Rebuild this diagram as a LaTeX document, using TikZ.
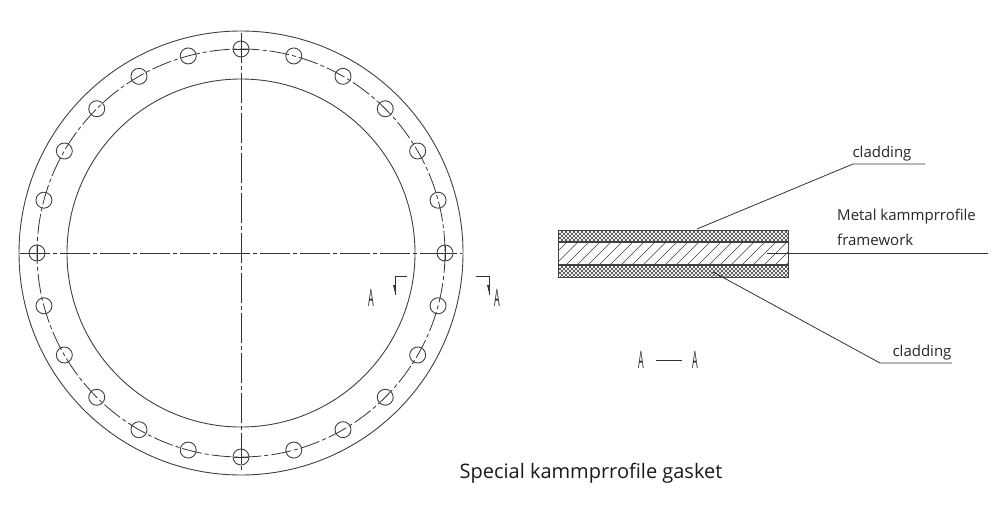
\documentclass[tikz,border=0pt]{standalone}
\usepackage{fontspec}
\setmainfont{Open Sans}
\usepackage{graphicx}
\usetikzlibrary{calc}

\tikzset{
    part/.style={draw=black!75,line width=0.9pt},
    center line/.style={draw=black!80,line width=0.8pt,dash pattern=on 30pt off 3pt on 4pt off 3pt},
    pitch line/.style={draw=black!80,line width=0.8pt,dash pattern=on 20pt off 3pt on 4pt off 3pt},
    leader/.style={draw=black!80,line width=0.8pt},
    hatch/.style={draw=black!75,line width=0.6pt},
    label/.style={font=\fontsize{15}{15}\selectfont,text=black!85,inner sep=0pt},
    seclabel/.style={inner sep=0pt,text=black!85},
}
\newcommand{\secA}{\scalebox{0.6}[1.6]{\fontsize{15}{15}\selectfont\rmfamily A}}

\begin{document}
\begin{tikzpicture}[x=1pt,y=-1pt]
            \useasboundingbox (0,0) rectangle (1000,511);

            \coordinate (o) at (241,253);

            % gasket rings
            \draw[part] (o) circle (222);
            \draw[part] (o) circle (174);
            \draw[pitch line] (o) circle (204);

            % center lines
            \draw[center line] (20,253) -- (462,253);
            \draw[center line] (241,33) -- (241,471);

            % bolt holes
            \foreach \a in {0,15,...,345}{
                \draw[part] ($(o)+(\a:204)$) circle (8);
            }
            \foreach \a in {0,90,180,270}{
                \draw[leader] ($(o)+(\a:204)+(-7,0)$) -- ++(14,0);
                \draw[leader] ($(o)+(\a:204)+(0,-7)$) -- ++(0,14);
            }

            % section marks
            \coordinate (sl) at (395,276);
            \coordinate (sr) at (489,276);
            \draw[leader] (407,276) -- (sl) -- (395,295);
            \draw[leader] (476,276) -- (sr) -- (489,295);
            \fill[black!80] (393,285) -- (395,285) -- (395,293) -- cycle;
            \fill[black!80] (487,285) -- (489,285) -- (489,293) -- cycle;
            \node[seclabel] (al) at (371,298) {\secA};
            \node[seclabel] (ar) at (497,298) {\secA};

            % cross section
            \coordinate (s1) at (558,230);
            \coordinate (s2) at (788,242);
            \coordinate (s3) at (558,265);
            \coordinate (s4) at (788,277);

            \begin{scope}
                \clip (s1) rectangle (s2);
                \foreach \x in {550,554,...,800}{
                    \draw[hatch] (\x,228) -- ++(16,16);
                    \draw[hatch] (\x,228) -- ++(-16,16);
                }
            \end{scope}
            \begin{scope}
                \clip (s3) rectangle (s4);
                \foreach \x in {550,554,...,800}{
                    \draw[hatch] (\x,263) -- ++(16,16);
                    \draw[hatch] (\x,263) -- ++(-16,16);
                }
            \end{scope}
            \begin{scope}
                \clip (558,242) rectangle (788,265);
                \foreach \x in {558,569,...,820}{
                    \draw[hatch] (\x,240) -- ++(-27,27);
                }
            \end{scope}
            \draw[part] (s1) rectangle (s4);
            \draw[part,line width=1.3pt] (558,242) -- (s2);
            \draw[part,line width=1.3pt] (s3) -- (788,265);

            % labels
            \node[label,anchor=base] (clad1) at (882,157) {cladding};
            \node[label,anchor=base west] (metal1) at (837,220) {Metal kammprrofile};
            \node[label,anchor=base west] (metal2) at (837,245) {framework};
            \node[label,anchor=base] (clad2) at (922,356) {cladding};
            \node[seclabel] (a1) at (641,360) {\secA};
            \node[seclabel] (a2) at (695,360) {\secA};
            \node[inner sep=0pt,text=black!90,font=\fontsize{20}{20}\selectfont,anchor=base] (title) at (591,478) {Special kammprrofile gasket};

            % leaders
            \coordinate (p1) at (697,229);
            \coordinate (k1) at (853,164);
            \coordinate (e1) at (925,164);
            \draw[leader] (p1) -- (k1) -- (e1);
            \coordinate (p2) at (767,253);
            \coordinate (e2) at (988,253);
            \draw[leader] (p2) -- (e2);
            \coordinate (p3) at (713,272);
            \coordinate (k3) at (880,363);
            \coordinate (e3) at (952,363);
            \draw[leader] (p3) -- (k3) -- (e3);
            \draw[leader] (a1) ++(15,0) -- ++(26,0);

        \end{tikzpicture}
\end{document}
